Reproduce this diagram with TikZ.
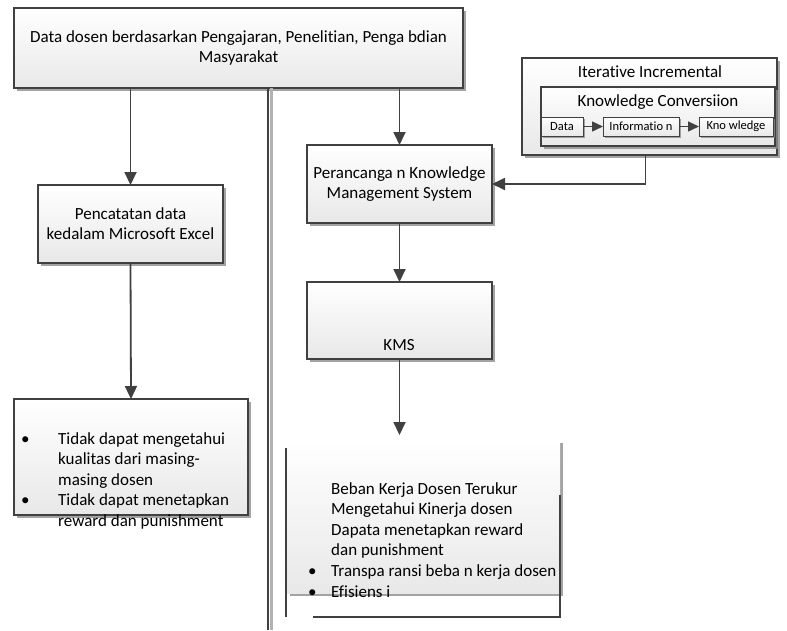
\documentclass[tikz,border=0pt]{standalone}
\usepackage{fontspec}
\setmainfont{Carlito}[Ligatures=NoCommon]
\usetikzlibrary{arrows.meta,shadows,positioning}

\tikzset{
  kotak/.style={draw=black!75, line width=1.5pt, top color=white, bottom color=black!9,
    drop shadow={shadow xshift=3pt, shadow yshift=-3pt, fill=black!45, opacity=0.8},
    inner sep=0pt, outer sep=0pt, align=center, anchor=north west,
    font=\fontsize{17}{20}\selectfont},
  kecil/.style={draw=black!75, line width=0.9pt, top color=white, bottom color=black!9,
    drop shadow={shadow xshift=2pt, shadow yshift=-2pt, fill=black!45, opacity=0.8},
    inner sep=0pt, outer sep=0pt, anchor=north west, minimum height=19pt,
    font=\fontsize{12.5}{14}\selectfont},
  judul/.style={inner sep=0pt, font=\fontsize{17}{20}\selectfont},
  panah/.style={draw=black!75, line width=1.8pt, -{Triangle[width=12pt,length=13pt]}},
  panahkecil/.style={draw=black!75, line width=1.4pt, -{Triangle[width=10pt,length=11pt]}},
  garis/.style={draw=black!75, line width=1.8pt},
  teks/.style={inner sep=0pt, anchor=north west, align=left, font=\fontsize{17}{20.6}\selectfont},
}

\begin{document}
\begin{tikzpicture}[x=1pt, y=-1pt]
    \useasboundingbox (0,0) rectangle (787,630);

    % garis pemisah
    \coordinate (bawah) at (268,630);

    % kolom kiri
    \node[kotak, minimum width=449pt, minimum height=80pt] (atas) at (14,8)
        {Data dosen berdasarkan Pengajaran, Penelitian, Penga bdian\\Masyarakat};
    \draw[black!30, line width=3pt] ([xshift=3pt]atas.south -| bawah) -- ([xshift=3pt]bawah);
    \draw[garis] (atas.south -| bawah) -- (bawah);

    \node[kotak, minimum width=185pt, minimum height=78pt] (catat) at (38,185)
        {Pencatatan data\\kedalam Microsoft Excel};
    \node[kotak, minimum width=234pt, minimum height=116pt] (kurang) at (14,399) {};
    \node[teks] (kurangteks) at (21,432)
        {\makebox[37pt][l]{\textbullet}Tidak dapat mengetahui\\
         \hspace*{37pt}kualitas dari masing-\\
         \hspace*{37pt}masing dosen\\
         \makebox[37pt][l]{\textbullet}Tidak dapat menetapkan\\
         \hspace*{37pt}reward dan punishment};

    \draw[panah] (atas.south -| catat.north) -- (catat.north);
    \draw[panah] (catat.south) -- (kurang.north);

    % kolom kanan
    \node[kotak, minimum width=255pt, minimum height=97pt] (iteratif) at (522,58) {};
    \node[judul] (judul1) at (650,72) {Iterative Incremental};
    \node[kotak, minimum width=234pt, minimum height=59pt] (konversi) at (541,87) {};
    \node[judul] (judul2) at (658,102) {Knowledge Conversiion};
    \node[kecil, minimum width=42pt] (data) at (541,117) {Data};
    \node[kecil, minimum width=76pt] (info) at (603,117) {Informatio n};
    \node[kecil, minimum width=74pt] (know) at (699,117) {Kno wledge};
    \draw[panahkecil] (data) -- (info);
    \draw[panahkecil] (info) -- (know);

    \node[kotak, minimum width=185pt, minimum height=78pt] (rancang) at (307,145)
        {Perancanga n Knowledge\\Management System};
    \node[kotak, minimum width=185pt, minimum height=77pt] (kms) at (307,282) {};
    \node[judul] (kmsteks) at (399,345) {KMS};

    \draw[panah] (atas.south -| rancang.north) -- (rancang.north);
    \draw[panah] ([xshift=-4pt]iteratif.south) |- (rancang.east);
    \draw[panah] (rancang.south) -- (kms.north);

    % hasil
    \node[kotak, draw=none, minimum width=273pt, minimum height=153pt] (hasil) at (287,440) {};
    \draw[garis] (286,448) -- (286,617);
    \draw[garis] (313,617) -- (560,617) -- (560,495);
    \draw[panah, shorten >=5pt] (kms.south) -- (kms.south |- hasil.north);
    \node[teks] (hasilteks) at (308,482)
        {\hspace*{23pt}Beban Kerja Dosen Terukur\\
         \hspace*{23pt}Mengetahui Kinerja dosen\\
         \hspace*{23pt}Dapata menetapkan reward\\
         \hspace*{23pt}dan punishment\\
         \makebox[23pt][l]{\textbullet}Transpa ransi beba n kerja dosen\\
         \makebox[23pt][l]{\textbullet}Efisiens i};
\end{tikzpicture}
\end{document}
